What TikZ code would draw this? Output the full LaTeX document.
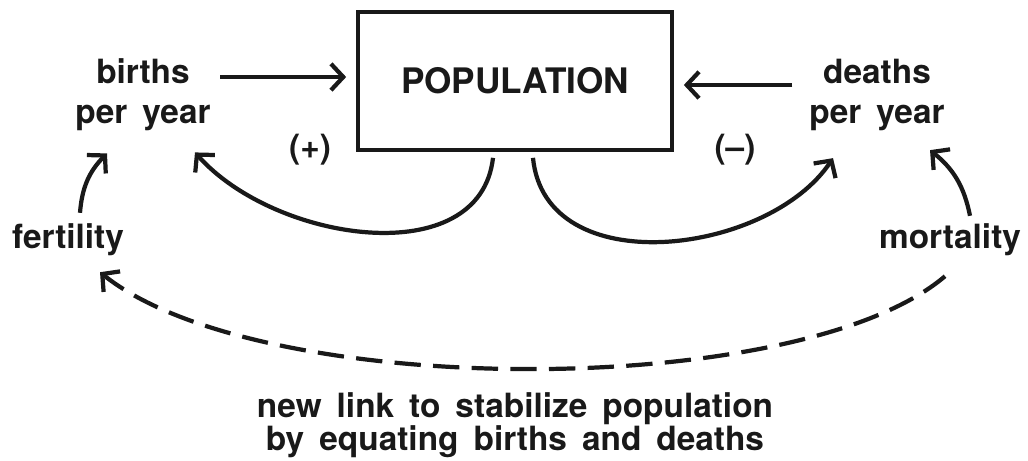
\documentclass[tikz,border=0pt]{standalone}
\usepackage{fontspec}
\setmainfont{TeX Gyre Heros}
\usetikzlibrary{arrows.meta}
\newcommand\wordfont{\fontsize{19}{23}\selectfont\bfseries\spaceskip=0.45em\relax}
\newcommand\notefont{\fontsize{19}{19}\selectfont\bfseries\spaceskip=0.45em\relax}
\tikzset{>={Straight Barb[length=7pt,width=15pt]}}
\tikzstyle{word}=[font=\wordfont, align=center, inner sep=1pt, text=black!90]
\tikzstyle{stock}=[rectangle,draw=black!90,line width=2.1pt,minimum width=6.28cm,minimum height=2.76cm]
\tikzstyle{link}=[->,draw=black!90,line width=2.4pt]
\tikzstyle{newlink}=[link,dash pattern=on 15pt off 7pt]

\begin{document}
\begin{tikzpicture}
\useasboundingbox (0,0) rectangle (20.56,-9.2);

% level and rates
\node[stock,word,font=\fontsize{20}{24}\selectfont\bfseries] (pop) at (10.3,-1.62) {POPULATION};
\node[word] (births) at (2.86,-1.9) {births\\per year};
\node[word] (deaths) at (17.54,-1.9) {deaths\\per year};
\node[word] (fert) at (1.36,-4.8) {fertility};
\node[word] (mort) at (19.0,-4.8) {mortality};
\node[word] (plus) at (6.2,-3.0) {(+)};
\node[word] (minus) at (14.7,-3.0) {(--)};
\node[word,font=\notefont] (note) at (10.3,-8.5)
	{new link to stabilize population\\by equating births and deaths};

% flows into and out of the level
\draw[link,shorten >=0.2cm] ([xshift=0.15cm,yshift=0.36cm]births.east) -- ([yshift=0.36cm]births.east -| pop.west);
\draw[link,shorten >=0.2cm] ([xshift=-0.3cm,yshift=0.2cm]deaths.west) -- ([yshift=0.2cm]deaths.west -| pop.east);

% feedback loops
\draw[link] ([xshift=-0.44cm,yshift=-0.12cm]pop.south) .. controls +(-0.26,-2.3) and +(1.6,-1.8) .. ([xshift=1.04cm,yshift=-0.38cm]births.south);
\draw[link] ([xshift=0.36cm,yshift=-0.12cm]pop.south) .. controls +(0.24,-2.5) and +(-1.3,-1.95) .. ([xshift=-0.88cm,yshift=-0.5cm]deaths.south);

\draw[link] ([xshift=0.24cm,yshift=0.18cm]fert.north) to[bend left=20] ([xshift=-0.72cm,yshift=-0.4cm]births.south);
\draw[link] ([xshift=0.4cm,yshift=0.12cm]mort.north) to[bend right=20] ([xshift=1.06cm,yshift=-0.34cm]deaths.south);

% the new link
\draw[newlink] ([xshift=-0.1cm,yshift=-0.36cm]mort.south) .. controls +(-2.9,-2.48) and +(3.2,-2.56) .. ([xshift=0.64cm,yshift=-0.28cm]fert.south);

\end{tikzpicture}
\end{document}
